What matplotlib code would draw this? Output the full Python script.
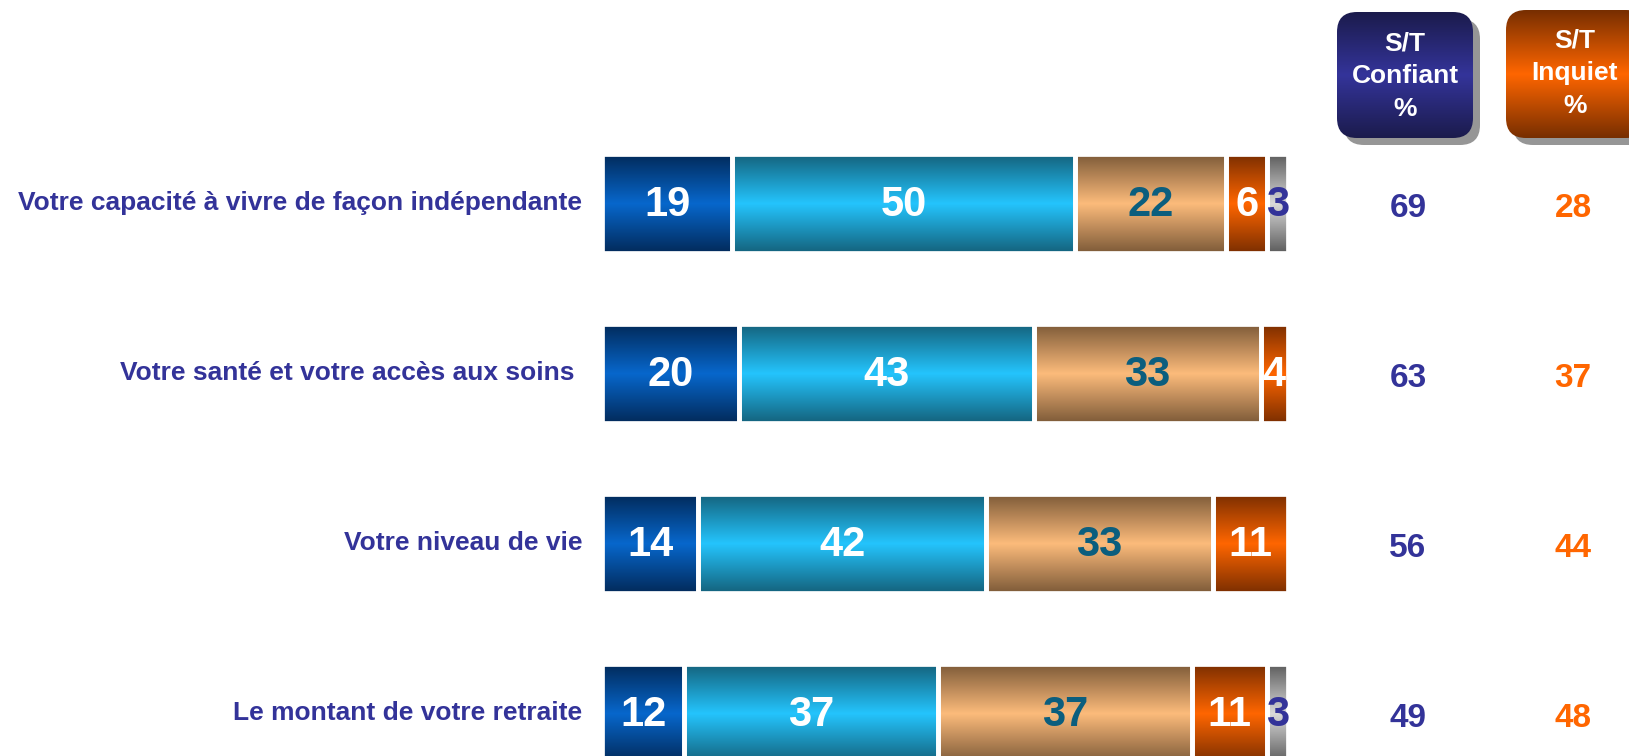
import numpy as np
import matplotlib
matplotlib.use("Agg")
import matplotlib.pyplot as plt
from matplotlib.colors import LinearSegmentedColormap
from matplotlib.patches import FancyBboxPatch

# ---------------- data ----------------
categories = ["Votre capacité à vivre de façon indépendante",
              "Votre santé et votre accès aux soins ",
              "Votre niveau de vie",
              "Le montant de votre retraite"]
tres_confiant = [19, 20, 14, 12]
plutot_confiant = [50, 43, 42, 37]
plutot_inquiet = [22, 33, 33, 37]
tres_inquiet = [6, 4, 11, 11]
nsp = [3, 0, 0, 3]
st_confiant = [69, 63, 56, 49]
st_inquiet = [28, 37, 44, 48]
header_confiant = "S/T\nConfiant\n%"
header_inquiet = "S/T\nInquiet\n%"

series = [tres_confiant, plutot_confiant, plutot_inquiet, tres_inquiet, nsp]
# (edge colour, centre colour) of each vertical gradient
grad_colors = [("#022a5a", "#0767cc"),
               ("#14627c", "#24c4fd"),
               ("#7d5a38", "#fcbb7b"),
               ("#7b2e00", "#ff6600"),
               ("#5c5c5c", "#d9d9d9")]
text_colors = ["white", "white", "#0b5e7e", "white", "#333399"]

BLUE = "#333399"
ORANGE = "#ff6600"
MAIN_FONT = ["Liberation Sans", "DejaVu Sans"]

# ---------------- layout ----------------
W, H = 1629, 756
fig = plt.figure(figsize=(W / 100, H / 100), dpi=100)
fig.patch.set_facecolor("white")

ax = fig.add_axes([0, 0, 1, 1])
ax.axis("off")
x0_px, px_per_unit = 602, 6.86
row0_px, row_pitch = 203, 170
xlim = (-x0_px / px_per_unit, (W - x0_px) / px_per_unit)
ylim = ((H - row0_px) / row_pitch, -row0_px / row_pitch)


def xdata(px):
    return (px - x0_px) / px_per_unit


bar_h = 99 / row_pitch
grad = np.linspace(0, 1, 256).reshape(-1, 1)
y = np.arange(len(categories))
left = np.zeros(len(categories))
for k, vals in enumerate(series):
    vals = np.array(vals, dtype=float)
    edge, centre = grad_colors[k]
    cmap = LinearSegmentedColormap.from_list(f"g{k}", [edge, centre, edge])
    bars = ax.barh(y, vals, left=left, height=bar_h, facecolor="none",
                   edgecolor="white", linewidth=3.4, zorder=3)
    for i, (b, v) in enumerate(zip(bars.patches, vals)):
        if v <= 0:
            b.set_visible(False)
            continue
        bx, by = b.get_x(), b.get_y()
        im = ax.imshow(grad, extent=[bx, bx + b.get_width(), by + b.get_height(), by],
                       aspect="auto", cmap=cmap, interpolation="bilinear", zorder=2)
        im.set_clip_path(b)
        ax.text(bx + b.get_width() / 2, y[i] + 0.01, f"{int(v)}", ha="center",
                va="center", fontsize=30, fontweight="bold", color=text_colors[k],
                family=MAIN_FONT, zorder=4)
    left += vals

for i, cat in enumerate(categories):
    ax.text(xdata(582), y[i], cat, ha="right", va="center", fontsize=19,
            fontweight="bold", color=BLUE, family=MAIN_FONT)
    ax.text(xdata(1408), y[i] + 0.03, f"{st_confiant[i]}", ha="center", va="center",
            fontsize=24, fontweight="bold", color=BLUE, family=MAIN_FONT)
    ax.text(xdata(1573), y[i] + 0.03, f"{st_inquiet[i]}", ha="center", va="center",
            fontsize=24, fontweight="bold", color=ORANGE, family=MAIN_FONT)

ax.set_xlim(*xlim)
ax.set_ylim(*ylim)

# ---------------- header boxes (pixel-unit overlay) ----------------
ax2 = fig.add_axes([0, 0, 1, 1], zorder=5)
ax2.axis("off")
ax2.patch.set_alpha(0)


def header_box(x, y0, w, h, edge, centre, text, tx, ty):
    shadow = FancyBboxPatch((x + 7, y0 + 7), w, h,
                            boxstyle="round,pad=0,rounding_size=20",
                            facecolor="#969696", edgecolor="none", zorder=1)
    ax2.add_patch(shadow)
    box = FancyBboxPatch((x, y0), w, h, boxstyle="round,pad=0,rounding_size=20",
                         facecolor="none", edgecolor="none", zorder=3)
    ax2.add_patch(box)
    cmap = LinearSegmentedColormap.from_list("h", [edge, centre, edge])
    im = ax2.imshow(grad, extent=[x, x + w, y0 + h, y0], aspect="auto", cmap=cmap,
                    interpolation="bilinear", zorder=2)
    im.set_clip_path(box)
    ax2.text(tx, ty, text, ha="center", va="center", fontsize=19, fontweight="bold",
             color="white", family=MAIN_FONT, linespacing=1.45, zorder=4)


header_box(1337, 12, 136, 126, "#1b1b4c", "#34349a", header_confiant, 1405, 76)
header_box(1506, 10, 140, 128, "#772e00", "#ff6600", header_inquiet, 1575, 73)
ax2.set_xlim(0, W)
ax2.set_ylim(H, 0)

fig.savefig("out.png", dpi=100, facecolor="white")
